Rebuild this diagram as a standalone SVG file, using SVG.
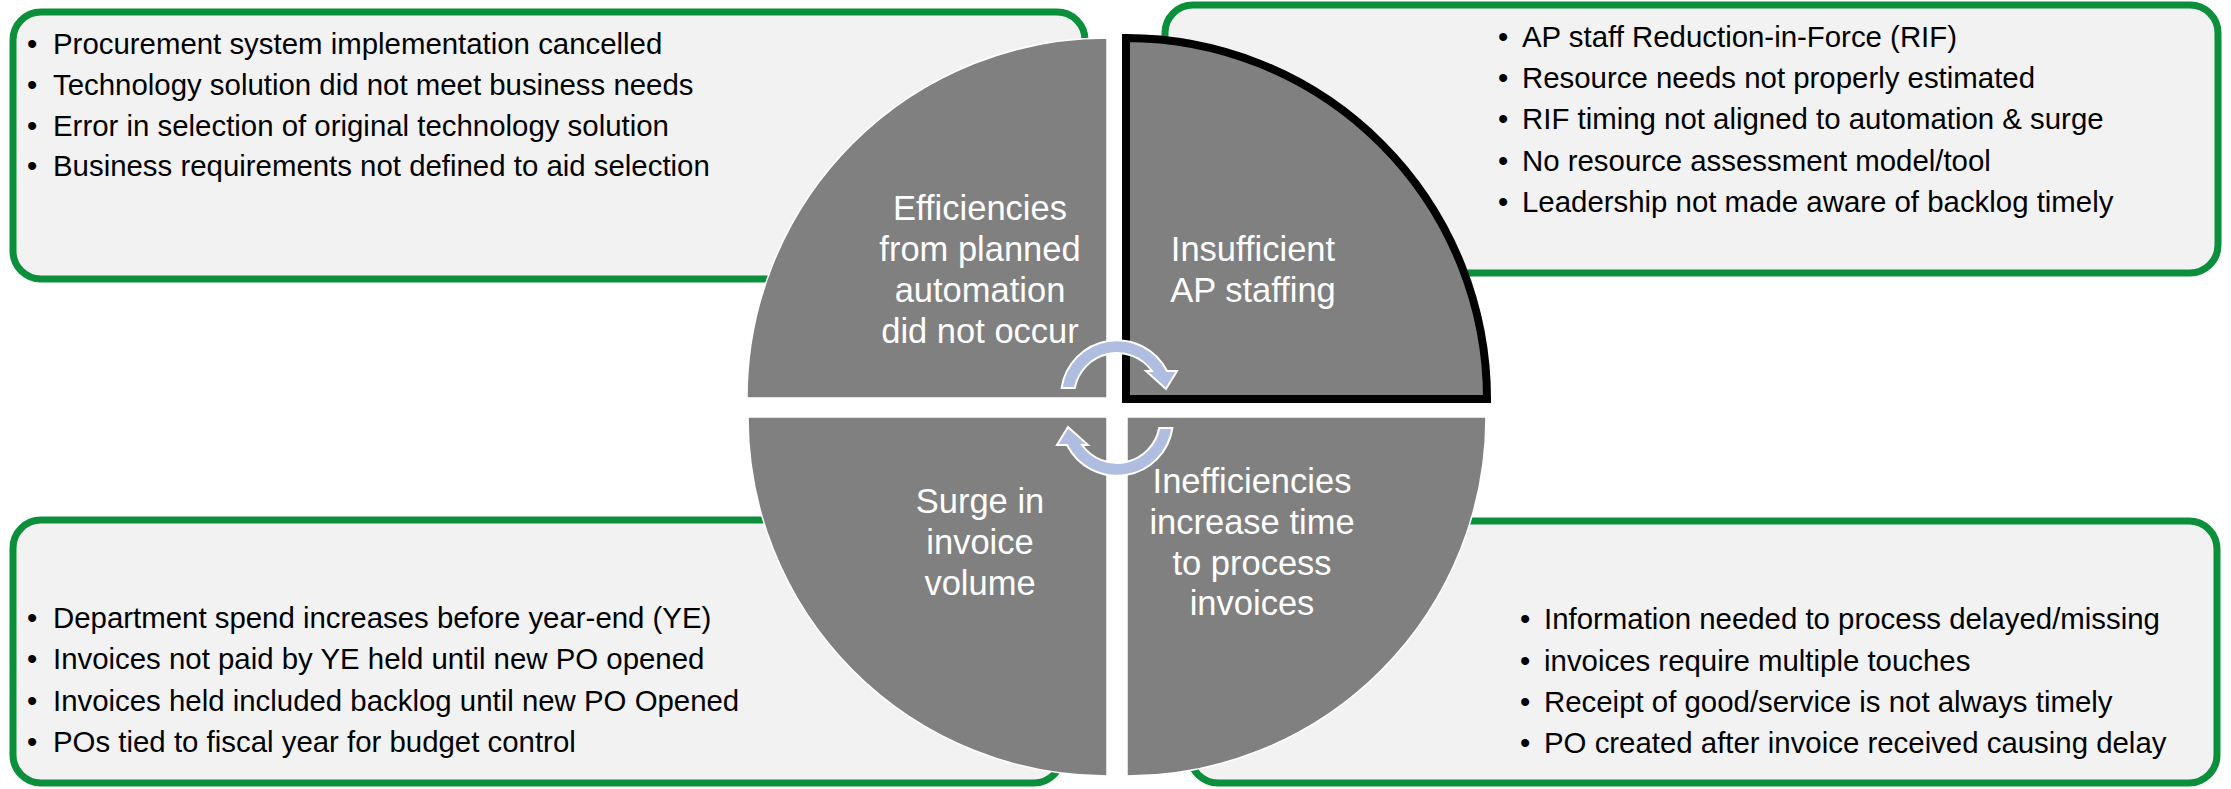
<svg xmlns="http://www.w3.org/2000/svg" width="2231" height="789" viewBox="0 0 2231 789">
<style>
.box{fill:#F2F2F2;stroke:#0B8F3A;stroke-width:7}
.q{fill:#808080;stroke:#FFFFFF;stroke-width:1.5}
.qsel{fill:#808080;stroke:#000000;stroke-width:8;stroke-linejoin:miter}
.t{font-family:"Liberation Sans",Arial,sans-serif;font-size:29.4px;fill:#000}
.lbl{font-family:"Liberation Sans",Arial,sans-serif;font-size:34.5px;fill:#FFFFFF;text-anchor:middle}
.arr{fill:#AEBDE0;stroke:#FFFFFF;stroke-width:2;stroke-linejoin:miter}
</style>
<rect width="2231" height="789" fill="#FFFFFF"/>
<g id="box-top-left">
<rect class="box" x="13" y="12" width="1072" height="267" rx="28"/>
<text class="t"><tspan x="27" y="54">•</tspan><tspan x="53" y="54">Procurement system implementation cancelled</tspan></text>
<text class="t"><tspan x="27" y="95">•</tspan><tspan x="53" y="95">Technology solution did not meet business needs</tspan></text>
<text class="t"><tspan x="27" y="136">•</tspan><tspan x="53" y="136">Error in selection of original technology solution</tspan></text>
<text class="t"><tspan x="27" y="176">•</tspan><tspan x="53" y="176">Business requirements not defined to aid selection</tspan></text>
</g>
<g id="box-top-right">
<rect class="box" x="1165" y="5" width="1053" height="268" rx="28"/>
<text class="t"><tspan x="1498" y="47">•</tspan><tspan x="1522" y="47">AP staff Reduction-in-Force (RIF)</tspan></text>
<text class="t"><tspan x="1498" y="88">•</tspan><tspan x="1522" y="88">Resource needs not properly estimated</tspan></text>
<text class="t"><tspan x="1498" y="129">•</tspan><tspan x="1522" y="129">RIF timing not aligned to automation &amp; surge</tspan></text>
<text class="t"><tspan x="1498" y="171">•</tspan><tspan x="1522" y="171">No resource assessment model/tool</tspan></text>
<text class="t"><tspan x="1498" y="212">•</tspan><tspan x="1522" y="212">Leadership not made aware of backlog timely</tspan></text>
</g>
<g id="box-bottom-left">
<rect class="box" x="13" y="520" width="1049" height="263" rx="28"/>
<text class="t"><tspan x="27" y="628">•</tspan><tspan x="53" y="628">Department spend increases before year-end (YE)</tspan></text>
<text class="t"><tspan x="27" y="669">•</tspan><tspan x="53" y="669">Invoices not paid by YE held until new PO opened</tspan></text>
<text class="t"><tspan x="27" y="711">•</tspan><tspan x="53" y="711">Invoices held included backlog until new PO Opened</tspan></text>
<text class="t"><tspan x="27" y="752">•</tspan><tspan x="53" y="752">POs tied to fiscal year for budget control</tspan></text>
</g>
<g id="box-bottom-right">
<rect class="box" x="1190" y="521" width="1027" height="262" rx="28"/>
<text class="t"><tspan x="1520" y="629">•</tspan><tspan x="1544" y="629">Information needed to process delayed/missing</tspan></text>
<text class="t"><tspan x="1520" y="671">•</tspan><tspan x="1544" y="671">invoices require multiple touches</tspan></text>
<text class="t"><tspan x="1520" y="712">•</tspan><tspan x="1544" y="712">Receipt of good/service is not always timely</tspan></text>
<text class="t"><tspan x="1520" y="753">•</tspan><tspan x="1544" y="753">PO created after invoice received causing delay</tspan></text>
</g>
<g id="node-efficiencies">
<path class="q" d="M1107,398 L747,398 A360,360 0 0 1 1107,38 Z"/>
<text class="lbl"><tspan x="980" y="220">Efficiencies</tspan><tspan x="980" y="261">from planned</tspan><tspan x="980" y="302">automation</tspan><tspan x="980" y="343">did not occur</tspan></text>
</g>
<g id="node-staffing">
<path class="qsel" d="M1126,399 L1126,38 A361,361 0 0 1 1487,399 Z"/>
<text class="lbl"><tspan x="1253" y="261">Insufficient</tspan><tspan x="1253" y="302">AP staffing</tspan></text>
</g>
<g id="node-surge">
<path class="q" d="M1107,417 L1107,776 A359,359 0 0 1 748,417 Z"/>
<text class="lbl"><tspan x="980" y="513">Surge in</tspan><tspan x="980" y="554">invoice</tspan><tspan x="980" y="595">volume</tspan></text>
</g>
<g id="node-inefficiencies">
<path class="q" d="M1127,417 L1486,417 A359,359 0 0 1 1127,776 Z"/>
<text class="lbl"><tspan x="1252" y="493">Inefficiencies</tspan><tspan x="1252" y="534">increase time</tspan><tspan x="1252" y="575">to process</tspan><tspan x="1252" y="615">invoices</tspan></text>
</g>
<g id="connectors">
<path class="arr" d="M1061.6,388 A56,56 0 0 1 1167,371 L1177,371 L1166,389 L1146,371 L1152,371 A43,43 0 0 0 1074.8,388 Z"/>
<path class="arr" d="M1172.4,428 A56,56 0 0 1 1067,445 L1057,445 L1068,427 L1088,445 L1082,445 A43,43 0 0 0 1159.2,428 Z"/>
</g>
</svg>
